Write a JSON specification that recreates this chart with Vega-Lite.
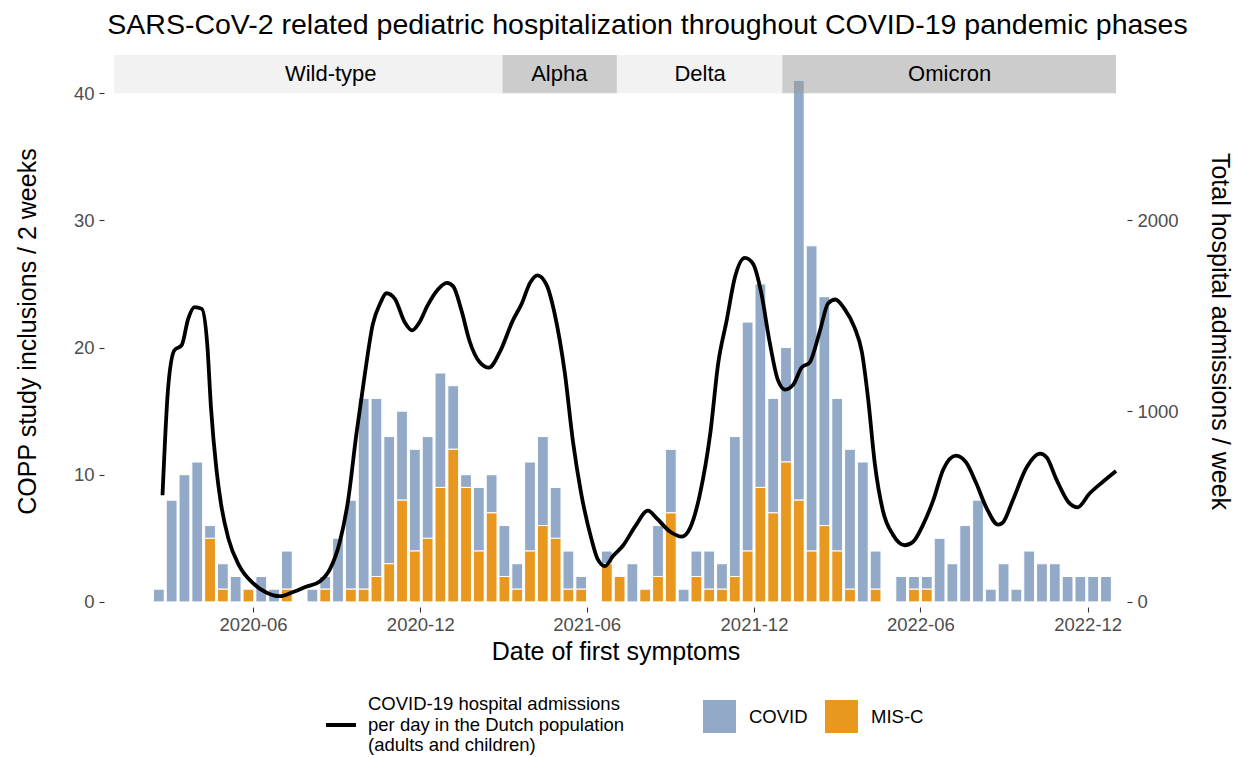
{
  "$schema": "https://vega.github.io/schema/vega-lite/v6.json",
  "width": 1023,
  "height": 552,
  "autosize": {"type": "none"},
  "padding": {"left": 104, "top": 55, "right": 116, "bottom": 150},
  "background": "white",
  "title": {
    "text": "SARS-CoV-2 related pediatric hospitalization throughout COVID-19 pandemic phases",
    "fontSize": 28.5, "fontWeight": "normal", "color": "#000000",
    "anchor": "middle", "frame": "group", "dx": 32, "offset": 16
  },
  "config": {
    "font": "Liberation Sans",
    "view": {"stroke": null},
    "axis": {
      "grid": false, "domain": false, "tickSize": 5, "tickColor": "#333333", "tickWidth": 1.1,
      "labelFontSize": 18.5, "labelColor": "#4d4d4d", "titleFontSize": 25,
      "titleFontWeight": "normal", "titleColor": "#000000"
    },
    "legend": {"padding": 0, "labelColor": "#000000", "labelFontSize": 18.5, "labelLimit": 600}
  },
  "layer": [
    {
      "layer": [
        {
          "data": {"values": [
            {"start": "2020-02-12", "end": "2020-02-26", "COVID": 1, "MIS-C": 0},
            {"start": "2020-02-26", "end": "2020-03-11", "COVID": 8, "MIS-C": 0},
            {"start": "2020-03-11", "end": "2020-03-25", "COVID": 10, "MIS-C": 0},
            {"start": "2020-03-25", "end": "2020-04-08", "COVID": 11, "MIS-C": 0},
            {"start": "2020-04-08", "end": "2020-04-22", "COVID": 1, "MIS-C": 5},
            {"start": "2020-04-22", "end": "2020-05-06", "COVID": 2, "MIS-C": 1},
            {"start": "2020-05-06", "end": "2020-05-20", "COVID": 2, "MIS-C": 0},
            {"start": "2020-05-20", "end": "2020-06-03", "COVID": 0, "MIS-C": 1},
            {"start": "2020-06-03", "end": "2020-06-17", "COVID": 2, "MIS-C": 0},
            {"start": "2020-06-17", "end": "2020-07-01", "COVID": 1, "MIS-C": 0},
            {"start": "2020-07-01", "end": "2020-07-15", "COVID": 3, "MIS-C": 1},
            {"start": "2020-07-15", "end": "2020-07-29", "COVID": 0, "MIS-C": 0},
            {"start": "2020-07-29", "end": "2020-08-12", "COVID": 1, "MIS-C": 0},
            {"start": "2020-08-12", "end": "2020-08-26", "COVID": 1, "MIS-C": 1},
            {"start": "2020-08-26", "end": "2020-09-09", "COVID": 5, "MIS-C": 0},
            {"start": "2020-09-09", "end": "2020-09-23", "COVID": 7, "MIS-C": 1},
            {"start": "2020-09-23", "end": "2020-10-07", "COVID": 15, "MIS-C": 1},
            {"start": "2020-10-07", "end": "2020-10-21", "COVID": 14, "MIS-C": 2},
            {"start": "2020-10-21", "end": "2020-11-04", "COVID": 10, "MIS-C": 3},
            {"start": "2020-11-04", "end": "2020-11-18", "COVID": 7, "MIS-C": 8},
            {"start": "2020-11-18", "end": "2020-12-02", "COVID": 8, "MIS-C": 4},
            {"start": "2020-12-02", "end": "2020-12-16", "COVID": 8, "MIS-C": 5},
            {"start": "2020-12-16", "end": "2020-12-30", "COVID": 9, "MIS-C": 9},
            {"start": "2020-12-30", "end": "2021-01-13", "COVID": 5, "MIS-C": 12},
            {"start": "2021-01-13", "end": "2021-01-27", "COVID": 1, "MIS-C": 9},
            {"start": "2021-01-27", "end": "2021-02-10", "COVID": 5, "MIS-C": 4},
            {"start": "2021-02-10", "end": "2021-02-24", "COVID": 3, "MIS-C": 7},
            {"start": "2021-02-24", "end": "2021-03-10", "COVID": 4, "MIS-C": 2},
            {"start": "2021-03-10", "end": "2021-03-24", "COVID": 2, "MIS-C": 1},
            {"start": "2021-03-24", "end": "2021-04-07", "COVID": 7, "MIS-C": 4},
            {"start": "2021-04-07", "end": "2021-04-21", "COVID": 7, "MIS-C": 6},
            {"start": "2021-04-21", "end": "2021-05-05", "COVID": 4, "MIS-C": 5},
            {"start": "2021-05-05", "end": "2021-05-19", "COVID": 3, "MIS-C": 1},
            {"start": "2021-05-19", "end": "2021-06-02", "COVID": 1, "MIS-C": 1},
            {"start": "2021-06-02", "end": "2021-06-16", "COVID": 0, "MIS-C": 0},
            {"start": "2021-06-16", "end": "2021-06-30", "COVID": 1, "MIS-C": 3},
            {"start": "2021-06-30", "end": "2021-07-14", "COVID": 0, "MIS-C": 2},
            {"start": "2021-07-14", "end": "2021-07-28", "COVID": 3, "MIS-C": 0},
            {"start": "2021-07-28", "end": "2021-08-11", "COVID": 0, "MIS-C": 1},
            {"start": "2021-08-11", "end": "2021-08-25", "COVID": 4, "MIS-C": 2},
            {"start": "2021-08-25", "end": "2021-09-08", "COVID": 5, "MIS-C": 7},
            {"start": "2021-09-08", "end": "2021-09-22", "COVID": 1, "MIS-C": 0},
            {"start": "2021-09-22", "end": "2021-10-06", "COVID": 2, "MIS-C": 2},
            {"start": "2021-10-06", "end": "2021-10-20", "COVID": 3, "MIS-C": 1},
            {"start": "2021-10-20", "end": "2021-11-03", "COVID": 2, "MIS-C": 1},
            {"start": "2021-11-03", "end": "2021-11-17", "COVID": 11, "MIS-C": 2},
            {"start": "2021-11-17", "end": "2021-12-01", "COVID": 18, "MIS-C": 4},
            {"start": "2021-12-01", "end": "2021-12-15", "COVID": 16, "MIS-C": 9},
            {"start": "2021-12-15", "end": "2021-12-29", "COVID": 9, "MIS-C": 7},
            {"start": "2021-12-29", "end": "2022-01-12", "COVID": 9, "MIS-C": 11},
            {"start": "2022-01-12", "end": "2022-01-26", "COVID": 33, "MIS-C": 8},
            {"start": "2022-01-26", "end": "2022-02-09", "COVID": 24, "MIS-C": 4},
            {"start": "2022-02-09", "end": "2022-02-23", "COVID": 18, "MIS-C": 6},
            {"start": "2022-02-23", "end": "2022-03-09", "COVID": 12, "MIS-C": 4},
            {"start": "2022-03-09", "end": "2022-03-23", "COVID": 11, "MIS-C": 1},
            {"start": "2022-03-23", "end": "2022-04-06", "COVID": 11, "MIS-C": 0},
            {"start": "2022-04-06", "end": "2022-04-20", "COVID": 3, "MIS-C": 1},
            {"start": "2022-04-20", "end": "2022-05-04", "COVID": 0, "MIS-C": 0},
            {"start": "2022-05-04", "end": "2022-05-18", "COVID": 2, "MIS-C": 0},
            {"start": "2022-05-18", "end": "2022-06-01", "COVID": 1, "MIS-C": 1},
            {"start": "2022-06-01", "end": "2022-06-15", "COVID": 1, "MIS-C": 1},
            {"start": "2022-06-15", "end": "2022-06-29", "COVID": 5, "MIS-C": 0},
            {"start": "2022-06-29", "end": "2022-07-13", "COVID": 3, "MIS-C": 0},
            {"start": "2022-07-13", "end": "2022-07-27", "COVID": 6, "MIS-C": 0},
            {"start": "2022-07-27", "end": "2022-08-10", "COVID": 8, "MIS-C": 0},
            {"start": "2022-08-10", "end": "2022-08-24", "COVID": 1, "MIS-C": 0},
            {"start": "2022-08-24", "end": "2022-09-07", "COVID": 3, "MIS-C": 0},
            {"start": "2022-09-07", "end": "2022-09-21", "COVID": 1, "MIS-C": 0},
            {"start": "2022-09-21", "end": "2022-10-05", "COVID": 4, "MIS-C": 0},
            {"start": "2022-10-05", "end": "2022-10-19", "COVID": 3, "MIS-C": 0},
            {"start": "2022-10-19", "end": "2022-11-02", "COVID": 3, "MIS-C": 0},
            {"start": "2022-11-02", "end": "2022-11-16", "COVID": 2, "MIS-C": 0},
            {"start": "2022-11-16", "end": "2022-11-30", "COVID": 2, "MIS-C": 0},
            {"start": "2022-11-30", "end": "2022-12-14", "COVID": 2, "MIS-C": 0},
            {"start": "2022-12-14", "end": "2022-12-28", "COVID": 2, "MIS-C": 0}
          ]},
          "transform": [
            {"fold": ["COVID", "MIS-C"], "as": ["type", "n"]},
            {"filter": "datum.n > 0"},
            {"stack": "n", "groupby": ["start"], "sort": [{"field": "type", "order": "descending"}], "as": ["y0", "y1"]}
          ],
          "mark": {"type": "bar", "stroke": "white", "strokeWidth": 1, "xOffset": 1, "x2Offset": -1},
          "encoding": {
            "x": {
              "field": "start", "type": "temporal", "title": "Date of first symptoms",
              "scale": {"type": "utc", "domain": [{"year": 2019, "month": 12, "date": 21, "utc": true}, {"year": 2023, "month": 1, "date": 13, "utc": true}]},
              "axis": {
                "format": "%Y-%m", "labelPadding": 3, "titlePadding": 6,
                "values": [
                  {"year": 2020, "month": 6, "date": 1, "utc": true},
                  {"year": 2020, "month": 12, "date": 1, "utc": true},
                  {"year": 2021, "month": 6, "date": 1, "utc": true},
                  {"year": 2021, "month": 12, "date": 1, "utc": true},
                  {"year": 2022, "month": 6, "date": 1, "utc": true},
                  {"year": 2022, "month": 12, "date": 1, "utc": true}
                ]
              }
            },
            "x2": {"field": "end"},
            "y": {
              "field": "y0", "type": "quantitative",
              "title": "COPP study inclusions / 2 weeks",
              "scale": {"domain": [-0.4, 43], "nice": false, "zero": false},
              "axis": {"values": [0, 10, 20, 30, 40], "labelPadding": 5, "titlePadding": 33}
            },
            "y2": {"field": "y1"},
            "fill": {
              "field": "type", "type": "nominal",
              "scale": {"domain": ["COVID", "MIS-C"], "range": ["#92AAC7", "#E8971F"]},
              "legend": {
                "title": null, "orient": "none", "legendX": 599, "legendY": 645,
                "direction": "horizontal", "symbolType": "square", "symbolSize": 1089,
                "symbolStrokeWidth": 0, "labelOffset": 13, "columnPadding": 17
              }
            }
          }
        },
        {
          "data": {"values": [
            {"phase": "Wild-type", "start": "2020-01-01", "end": "2021-03-01", "mid": "2020-08-25"},
            {"phase": "Alpha", "start": "2021-03-01", "end": "2021-07-04", "mid": "2021-05-02"},
            {"phase": "Delta", "start": "2021-07-04", "end": "2022-01-01", "mid": "2021-10-03"},
            {"phase": "Omicron", "start": "2022-01-01", "end": "2023-01-01", "mid": "2022-07-03"}
          ]},
          "layer": [
            {
              "mark": {"type": "rect", "opacity": 0.5},
              "encoding": {
                "x": {"field": "start", "type": "temporal", "title": "Date of first symptoms",
                      "scale": {"type": "utc", "domain": [{"year": 2019, "month": 12, "date": 21, "utc": true}, {"year": 2023, "month": 1, "date": 13, "utc": true}]}},
                "x2": {"field": "end"},
                "y": {"datum": 40, "type": "quantitative", "title": "COPP study inclusions / 2 weeks",
                      "scale": {"domain": [-0.4, 43], "nice": false, "zero": false}},
                "y2": {"datum": 43},
                "color": {
                  "field": "phase", "type": "nominal", "legend": null,
                  "scale": {"domain": ["Wild-type", "Alpha", "Delta", "Omicron"], "range": ["#e5e5e5", "#999999", "#e5e5e5", "#999999"]}
                }
              }
            },
            {
              "mark": {"type": "text", "fontSize": 22, "color": "#000000", "baseline": "middle", "align": "center"},
              "encoding": {
                "x": {"field": "mid", "type": "temporal", "title": "Date of first symptoms",
                      "scale": {"type": "utc", "domain": [{"year": 2019, "month": 12, "date": 21, "utc": true}, {"year": 2023, "month": 1, "date": 13, "utc": true}]}},
                "y": {"datum": 41.5, "type": "quantitative", "title": "COPP study inclusions / 2 weeks",
                      "scale": {"domain": [-0.4, 43], "nice": false, "zero": false}},
                "text": {"field": "phase"}
              }
            }
          ]
        }
      ]
    },
    {
      "data": {"values": [
        {"date": "2020-02-23", "admissions": 559},
        {"date": "2020-02-29", "admissions": 1113},
        {"date": "2020-03-07", "admissions": 1319},
        {"date": "2020-03-15", "admissions": 1346},
        {"date": "2020-03-22", "admissions": 1482},
        {"date": "2020-03-29", "admissions": 1545},
        {"date": "2020-04-06", "admissions": 1536},
        {"date": "2020-04-12", "admissions": 1346},
        {"date": "2020-04-16", "admissions": 1020},
        {"date": "2020-04-22", "admissions": 694},
        {"date": "2020-04-27", "admissions": 514},
        {"date": "2020-05-05", "admissions": 333},
        {"date": "2020-05-17", "admissions": 189},
        {"date": "2020-06-01", "admissions": 98},
        {"date": "2020-06-16", "admissions": 48},
        {"date": "2020-06-30", "admissions": 30},
        {"date": "2020-07-15", "admissions": 52},
        {"date": "2020-07-29", "admissions": 79},
        {"date": "2020-08-13", "admissions": 107},
        {"date": "2020-08-24", "admissions": 170},
        {"date": "2020-09-04", "admissions": 315},
        {"date": "2020-09-13", "admissions": 532},
        {"date": "2020-09-22", "admissions": 877},
        {"date": "2020-10-01", "admissions": 1183},
        {"date": "2020-10-10", "admissions": 1455},
        {"date": "2020-10-18", "admissions": 1564},
        {"date": "2020-10-25", "admissions": 1618},
        {"date": "2020-11-03", "admissions": 1590},
        {"date": "2020-11-14", "admissions": 1465},
        {"date": "2020-11-22", "admissions": 1423},
        {"date": "2020-11-30", "admissions": 1465},
        {"date": "2020-12-09", "admissions": 1554},
        {"date": "2020-12-20", "admissions": 1636},
        {"date": "2020-12-30", "admissions": 1672},
        {"date": "2021-01-06", "admissions": 1654},
        {"date": "2021-01-15", "admissions": 1528},
        {"date": "2021-01-24", "admissions": 1365},
        {"date": "2021-02-04", "admissions": 1256},
        {"date": "2021-02-14", "admissions": 1228},
        {"date": "2021-02-26", "admissions": 1310},
        {"date": "2021-03-12", "admissions": 1473},
        {"date": "2021-03-22", "admissions": 1564},
        {"date": "2021-03-31", "admissions": 1672},
        {"date": "2021-04-08", "admissions": 1712},
        {"date": "2021-04-18", "admissions": 1663},
        {"date": "2021-04-27", "admissions": 1509},
        {"date": "2021-05-08", "admissions": 1202},
        {"date": "2021-05-17", "admissions": 840},
        {"date": "2021-05-26", "admissions": 568},
        {"date": "2021-06-06", "admissions": 333},
        {"date": "2021-06-13", "admissions": 224},
        {"date": "2021-06-21", "admissions": 188},
        {"date": "2021-06-30", "admissions": 242},
        {"date": "2021-07-11", "admissions": 297},
        {"date": "2021-07-24", "admissions": 396},
        {"date": "2021-08-07", "admissions": 478},
        {"date": "2021-08-16", "admissions": 441},
        {"date": "2021-08-31", "admissions": 369},
        {"date": "2021-09-13", "admissions": 342},
        {"date": "2021-09-22", "admissions": 387},
        {"date": "2021-10-03", "admissions": 568},
        {"date": "2021-10-14", "admissions": 877},
        {"date": "2021-10-23", "admissions": 1256},
        {"date": "2021-11-01", "admissions": 1473},
        {"date": "2021-11-10", "admissions": 1699},
        {"date": "2021-11-21", "admissions": 1803},
        {"date": "2021-11-30", "admissions": 1772},
        {"date": "2021-12-09", "admissions": 1618},
        {"date": "2021-12-18", "admissions": 1365},
        {"date": "2021-12-27", "admissions": 1165},
        {"date": "2022-01-04", "admissions": 1113},
        {"date": "2022-01-13", "admissions": 1139},
        {"date": "2022-01-22", "admissions": 1228},
        {"date": "2022-01-31", "admissions": 1256},
        {"date": "2022-02-11", "admissions": 1419},
        {"date": "2022-02-20", "admissions": 1564},
        {"date": "2022-02-28", "admissions": 1585},
        {"date": "2022-03-10", "admissions": 1536},
        {"date": "2022-03-21", "admissions": 1438},
        {"date": "2022-03-29", "admissions": 1310},
        {"date": "2022-04-05", "admissions": 1057},
        {"date": "2022-04-12", "admissions": 731},
        {"date": "2022-04-21", "admissions": 478},
        {"date": "2022-05-02", "admissions": 352},
        {"date": "2022-05-15", "admissions": 297},
        {"date": "2022-05-24", "admissions": 315},
        {"date": "2022-06-04", "admissions": 405},
        {"date": "2022-06-15", "admissions": 532},
        {"date": "2022-06-26", "admissions": 694},
        {"date": "2022-07-10", "admissions": 767},
        {"date": "2022-07-21", "admissions": 731},
        {"date": "2022-08-01", "admissions": 623},
        {"date": "2022-08-12", "admissions": 496},
        {"date": "2022-08-25", "admissions": 405},
        {"date": "2022-08-30", "admissions": 415},
        {"date": "2022-09-10", "admissions": 532},
        {"date": "2022-09-25", "admissions": 703},
        {"date": "2022-10-10", "admissions": 777},
        {"date": "2022-10-17", "admissions": 758},
        {"date": "2022-10-28", "admissions": 640},
        {"date": "2022-11-10", "admissions": 523},
        {"date": "2022-11-20", "admissions": 496},
        {"date": "2022-12-03", "admissions": 568},
        {"date": "2022-12-18", "admissions": 631},
        {"date": "2023-01-01", "admissions": 686}
      ]},
      "mark": {"type": "line", "strokeWidth": 3.8, "interpolate": "monotone"},
      "encoding": {
        "x": {"field": "date", "type": "temporal", "title": "Date of first symptoms",
              "scale": {"type": "utc", "domain": [{"year": 2019, "month": 12, "date": 21, "utc": true}, {"year": 2023, "month": 1, "date": 13, "utc": true}]}},
        "y": {
          "field": "admissions", "type": "quantitative", "title": "Total hospital admissions / week",
          "scale": {"domain": [-26.67, 2866.67], "nice": false, "zero": false},
          "axis": {"orient": "right", "values": [0, 1000, 2000], "format": "d", "labelPadding": 5, "titlePadding": 28}
        },
        "stroke": {
          "datum": "COVID-19 hospital admissions|per day in the Dutch population|(adults and children)",
          "type": "nominal",
          "scale": {"range": ["#000000"]},
          "legend": {
            "title": null, "orient": "none", "legendX": 220, "legendY": 653,
            "symbolType": "stroke", "symbolSize": 900, "symbolStrokeWidth": 4,
            "labelExpr": "split(datum.label, '|')", "labelOffset": 10,
            "encode": {"labels": {"update": {"dy": {"value": -21}}}}
          }
        }
      }
    }
  ],
  "resolve": {"scale": {"y": "independent"}}
}
